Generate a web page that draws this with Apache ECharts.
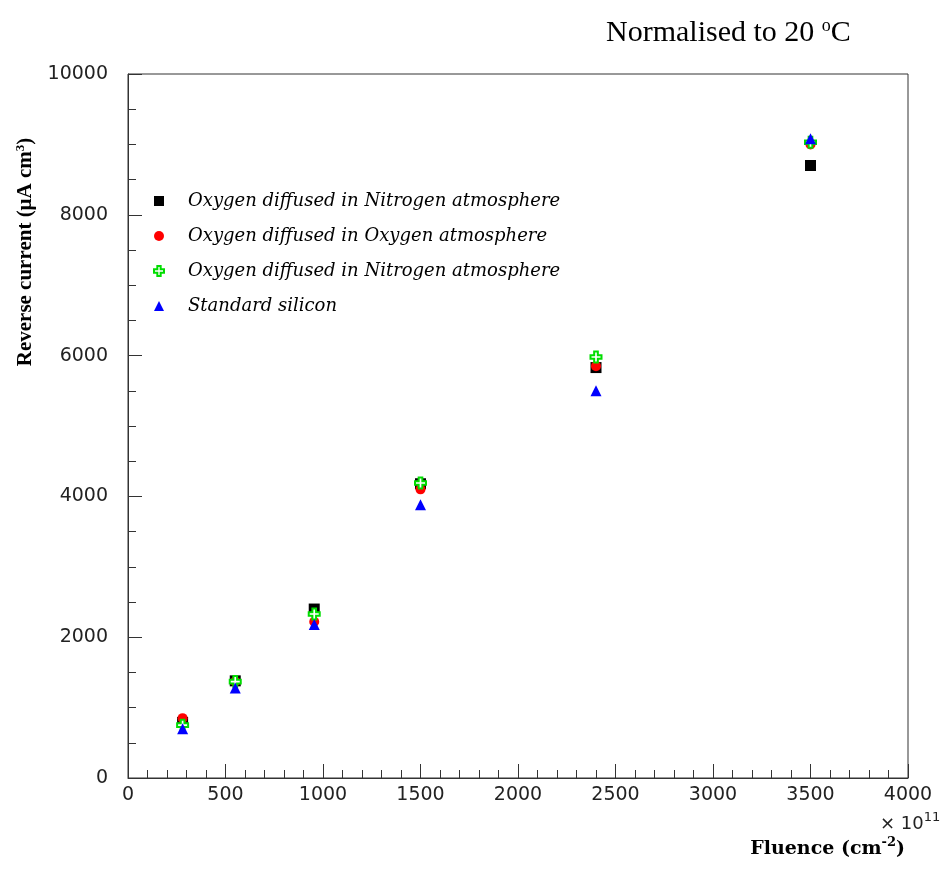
<!DOCTYPE html>
<html>
<head>
<meta charset="utf-8">
<script src="https://cdn.jsdelivr.net/npm/echarts@6/dist/echarts.min.js"></script>
<style>
  html, body { margin: 0; padding: 0; background: #fff; }
  #main { width: 950px; height: 869px; }
</style>
</head>
<body>
<div id="main"></div>
<script>
// fluence (x 10^11 cm^-2)
var fluence = [280, 550, 955, 1500, 2400, 3500];

var seriesNames = [
  'Oxygen diffused in Nitrogen atmosphere',
  'Oxygen diffused in Oxygen atmosphere',
  'Oxygen diffused in Nitrogen atmosphere ',
  'Standard silicon'
];

// reverse current (uA cm^-3)
var oxyNitrogenA = [790, 1380, 2400, 4180, 5830, 8700];
var oxyOxygen    = [850, 1370, 2220, 4100, 5850, 9000];
var oxyNitrogenB = [750, 1370, 2330, 4190, 5980, 9030];
var standardSi   = [700, 1280, 2180, 3880, 5500, 9080];

var allData = [oxyNitrogenA, oxyOxygen, oxyNitrogenB, standardSi];
var colors = ['#000000', '#ff0000', '#00dd00', '#0000ff'];
var symbols = [
  'rect',
  'circle',
  'path://M4,0 L8,0 L8,4 L12,4 L12,8 L8,8 L8,12 L4,12 L4,8 L0,8 L0,4 L4,4 Z',
  'triangle'
];
var sizes = [11, 10, 11, 11];

var chart = echarts.init(document.getElementById('main'));

var series = [];
for (var i = 0; i < allData.length; i++) {
  var pts = [];
  for (var j = 0; j < fluence.length; j++) {
    pts.push([fluence[j], allData[i][j]]);
  }
  series.push({
    name: seriesNames[i],
    type: 'scatter',
    symbol: symbols[i],
    symbolSize: sizes[i],
    itemStyle: i === 2
      ? { color: '#ffffff', borderColor: colors[i], borderWidth: 2, opacity: 1 }
      : { color: colors[i], opacity: 1 },
    data: pts,
    z: 2 + i
  });
}

var labelFont = {
  color: '#222', fontSize: 19, fontFamily: 'DejaVu Sans', fontWeight: 'normal',
  formatter: function (v) { return String(v); }
};

var option = {
  animation: false,
  backgroundColor: '#fff',
  title: {
    text: 'Normalised to 20 {sup|o}C',
    left: 601,
    top: 12,
    textStyle: {
      fontFamily: 'Liberation Serif',
      fontSize: 30,
      fontWeight: 'normal',
      color: '#000',
      rich: {
        sup: { fontFamily: 'Liberation Serif', fontSize: 18, verticalAlign: 'top', padding: [0, 0, 15, 0], color: '#000' }
      }
    }
  },
  legend: {
    orient: 'vertical',
    left: 148,
    top: 187,
    itemGap: 17,
    itemWidth: 10,
    itemHeight: 10,
    data: seriesNames,
    textStyle: {
      fontFamily: 'DejaVu Serif',
      fontStyle: 'italic',
      fontSize: 18,
      color: '#000',
      padding: [0, 0, 0, 19]
    }
  },
  grid: {
    left: 128,
    right: 42,
    top: 74,
    bottom: 91,
    show: true,
    borderColor: '#333',
    borderWidth: 1,
    backgroundColor: 'transparent'
  },
  xAxis: {
    type: 'value',
    min: 0,
    max: 4000,
    interval: 500,
    axisLine: { lineStyle: { color: '#333', width: 1 } },
    axisTick: { inside: true, length: 14, lineStyle: { color: '#333' } },
    minorTick: { show: true, splitNumber: 5, length: 8, lineStyle: { color: '#333' } },
    splitLine: { show: false },
    axisLabel: Object.assign({ margin: 8 }, labelFont)
  },
  yAxis: {
    type: 'value',
    min: 0,
    max: 10000,
    interval: 2000,
    axisLine: { lineStyle: { color: '#333', width: 1 } },
    axisTick: { inside: true, length: 14, lineStyle: { color: '#333' } },
    minorTick: { show: true, splitNumber: 4, length: 8, lineStyle: { color: '#333' } },
    splitLine: { show: false },
    axisLabel: Object.assign({ margin: 20 }, labelFont)
  },
  graphic: [{
    type: 'text',
    x: 26,
    y: 252,
    rotation: Math.PI / 2,
    style: {
      text: 'Reverse current (\u03bcA cm{sup|3})',
      fill: '#000',
      font: 'bold 21px "Liberation Serif"',
      align: 'center',
      verticalAlign: 'middle',
      rich: {
        sup: { font: 'bold 13px "Liberation Serif"', verticalAlign: 'top', padding: [0, 0, 10, 0], fill: '#000' }
      }
    }
  }, {
    type: 'text',
    x: 905,
    y: 849,
    style: {
      text: 'Fluence (cm{sup|-2})',
      fill: '#000',
      font: 'bold 19px "DejaVu Serif"',
      align: 'right',
      verticalAlign: 'middle',
      rich: {
        sup: { font: 'bold 13px "DejaVu Serif"', verticalAlign: 'top', padding: [0, 0, 12, 0], fill: '#000' }
      }
    }
  }, {
    type: 'text',
    x: 880,
    y: 824,
    style: {
      text: '\u00d7 10{sup|11}',
      fill: '#222',
      font: '18px "DejaVu Sans"',
      align: 'left',
      verticalAlign: 'middle',
      rich: {
        sup: { font: '13px "DejaVu Sans"', verticalAlign: 'top', padding: [0, 0, 12, 0], fill: '#222' }
      }
    }
  }],
  series: series
};

option && chart.setOption(option);
</script>
</body>
</html>
